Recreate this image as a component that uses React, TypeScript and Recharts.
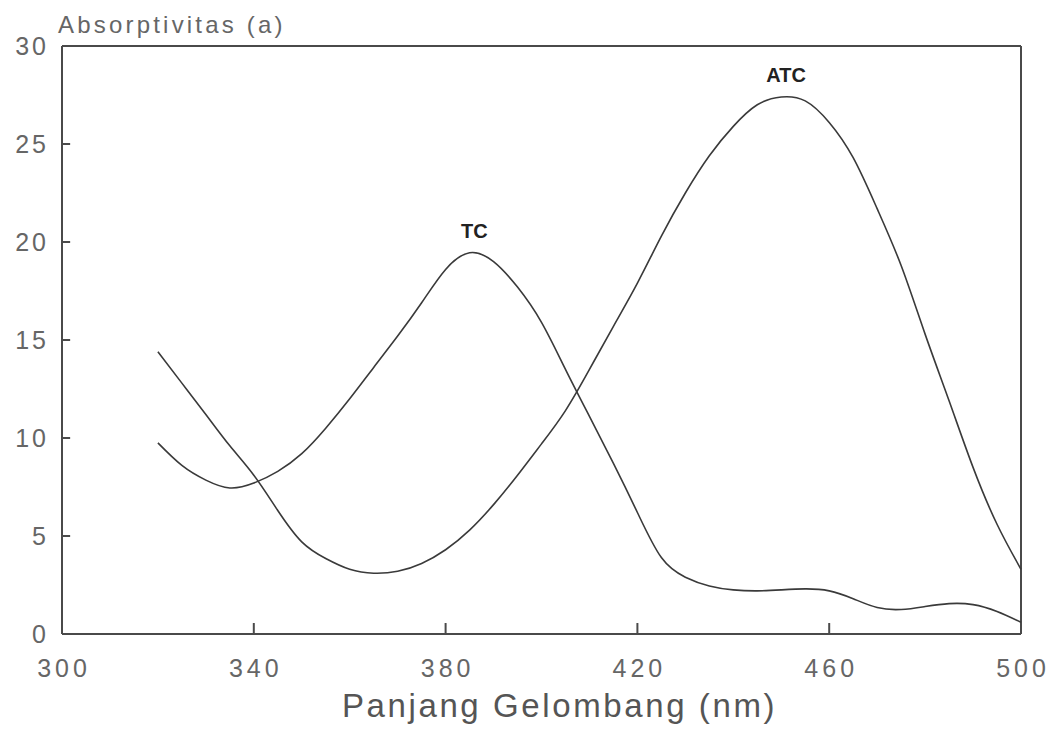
import { LineChart, Line, XAxis, YAxis, ReferenceDot, ReferenceLine } from 'recharts';

const wavelengths = [
  320, 325, 330, 335, 340, 345, 350, 355, 360, 365, 370, 375, 380, 385, 390, 395, 400, 405, 410,
  415, 420, 425, 430, 435, 440, 445, 450, 455, 460, 465, 470, 475, 480, 485, 490, 495, 500,
];
const tcValues = [
  9.75, 8.6, 7.85, 7.45, 7.7, 8.3, 9.2, 10.5, 12.0, 13.6, 15.2, 16.9, 18.6, 19.45, 19.0, 17.7, 15.9, 13.5, 11.1,
  8.7, 6.2, 3.9, 2.9, 2.45, 2.25, 2.2, 2.25, 2.3, 2.2, 1.8, 1.35, 1.25, 1.4, 1.55, 1.5, 1.15, 0.6,
];
const atcValues = [
  14.4, 12.8, 11.2, 9.6, 8.1, 6.3, 4.7, 3.85, 3.3, 3.1, 3.2, 3.6, 4.3, 5.3, 6.6, 8.1, 9.7, 11.4, 13.5,
  15.7, 17.9, 20.3, 22.5, 24.4, 25.9, 27.0, 27.4, 27.2, 26.1, 24.3, 21.7, 18.8, 15.3, 11.9, 8.5, 5.6, 3.3,
];
const xTicks = [300, 340, 380, 420, 460, 500];
const yTicks = [0, 5, 10, 15, 20, 25, 30];

const data = wavelengths.map((w, i) => ({ w, tc: tcValues[i], atc: atcValues[i] }));

const FONT = '"Liberation Sans", Arial, sans-serif';
const AXIS = '#4a4a4a';
const CURVE = '#3a3a3a';
const TEXT = '#666';

// inner tick lengths, in axis units (~11px and ~8px)
const X_TICK_LEN = 0.56;
const Y_TICK_LEN = 1.7;

function XTick(props: any) {
  const { x, y, payload } = props;
  return (
    <text x={x + 2} y={y + 43} textAnchor="middle" fill={TEXT} fontSize={25} letterSpacing={4} fontFamily={FONT}>
      {payload.value}
    </text>
  );
}

function YTick(props: any) {
  const { x, y, payload } = props;
  return (
    <text x={x - 13} y={y + 9} textAnchor="end" fill={TEXT} fontSize={25} letterSpacing={3} fontFamily={FONT}>
      {payload.value}
    </text>
  );
}

export default function App() {
  const innerX = xTicks.slice(1, -1);
  const innerY = yTicks.slice(1, -1);
  return (
    <div style={{ position: 'absolute', left: 0, top: 0, width: 1058, height: 735, background: '#fff', fontFamily: FONT }}>
      <div style={{ position: 'absolute', left: 58, top: 13, fontSize: 24, lineHeight: '24px', letterSpacing: 3.2, color: TEXT, whiteSpace: 'nowrap' }}>
        Absorptivitas (a)
      </div>
      <div style={{ position: 'absolute', left: 342, top: 689, fontSize: 33, lineHeight: '33px', letterSpacing: 2.6, color: '#555', whiteSpace: 'nowrap' }}>
        Panjang Gelombang (nm)
      </div>
      <div style={{ position: 'absolute', left: 0, top: 0 }}>
        <LineChart width={1058} height={735} data={data} margin={{ top: 46, right: 37, left: 12, bottom: 71 }}>
          <XAxis
            dataKey="w"
            type="number"
            domain={[300, 500]}
            ticks={xTicks}
            interval={0}
            height={30}
            stroke={AXIS}
            strokeWidth={2}
            tickLine={false}
            tickSize={0}
            tickMargin={0}
            tick={XTick}
          />
          <YAxis
            type="number"
            domain={[0, 30]}
            ticks={yTicks}
            interval={0}
            width={50}
            stroke={AXIS}
            strokeWidth={2}
            tickLine={false}
            tickSize={0}
            tickMargin={0}
            tick={YTick}
          />
          <ReferenceLine y={30} stroke={AXIS} strokeWidth={2} />
          <ReferenceLine x={500} stroke={AXIS} strokeWidth={2} />
          {innerX.map((t) => (
            <ReferenceLine key={`xt${t}`} segment={[{ x: t, y: 0 }, { x: t, y: X_TICK_LEN }]} stroke={AXIS} strokeWidth={2} />
          ))}
          {innerY.map((t) => (
            <ReferenceLine key={`yt${t}`} segment={[{ x: 300, y: t }, { x: 300 + Y_TICK_LEN, y: t }]} stroke={AXIS} strokeWidth={2} />
          ))}
          <Line type="natural" dataKey="tc" stroke={CURVE} strokeWidth={1.6} dot={false} isAnimationActive={false} />
          <Line type="natural" dataKey="atc" stroke={CURVE} strokeWidth={1.6} dot={false} isAnimationActive={false} />
          <ReferenceDot x={386} y={19.45} r={0} stroke="none" fill="none"
            label={{ value: 'TC', position: 'top', offset: 15, fill: '#222', fontSize: 20, fontWeight: 'bold', fontFamily: FONT }} />
          <ReferenceDot x={451} y={27.45} r={0} stroke="none" fill="none"
            label={{ value: 'ATC', position: 'top', offset: 14, fill: '#222', fontSize: 20, fontWeight: 'bold', fontFamily: FONT }} />
        </LineChart>
      </div>
    </div>
  );
}
